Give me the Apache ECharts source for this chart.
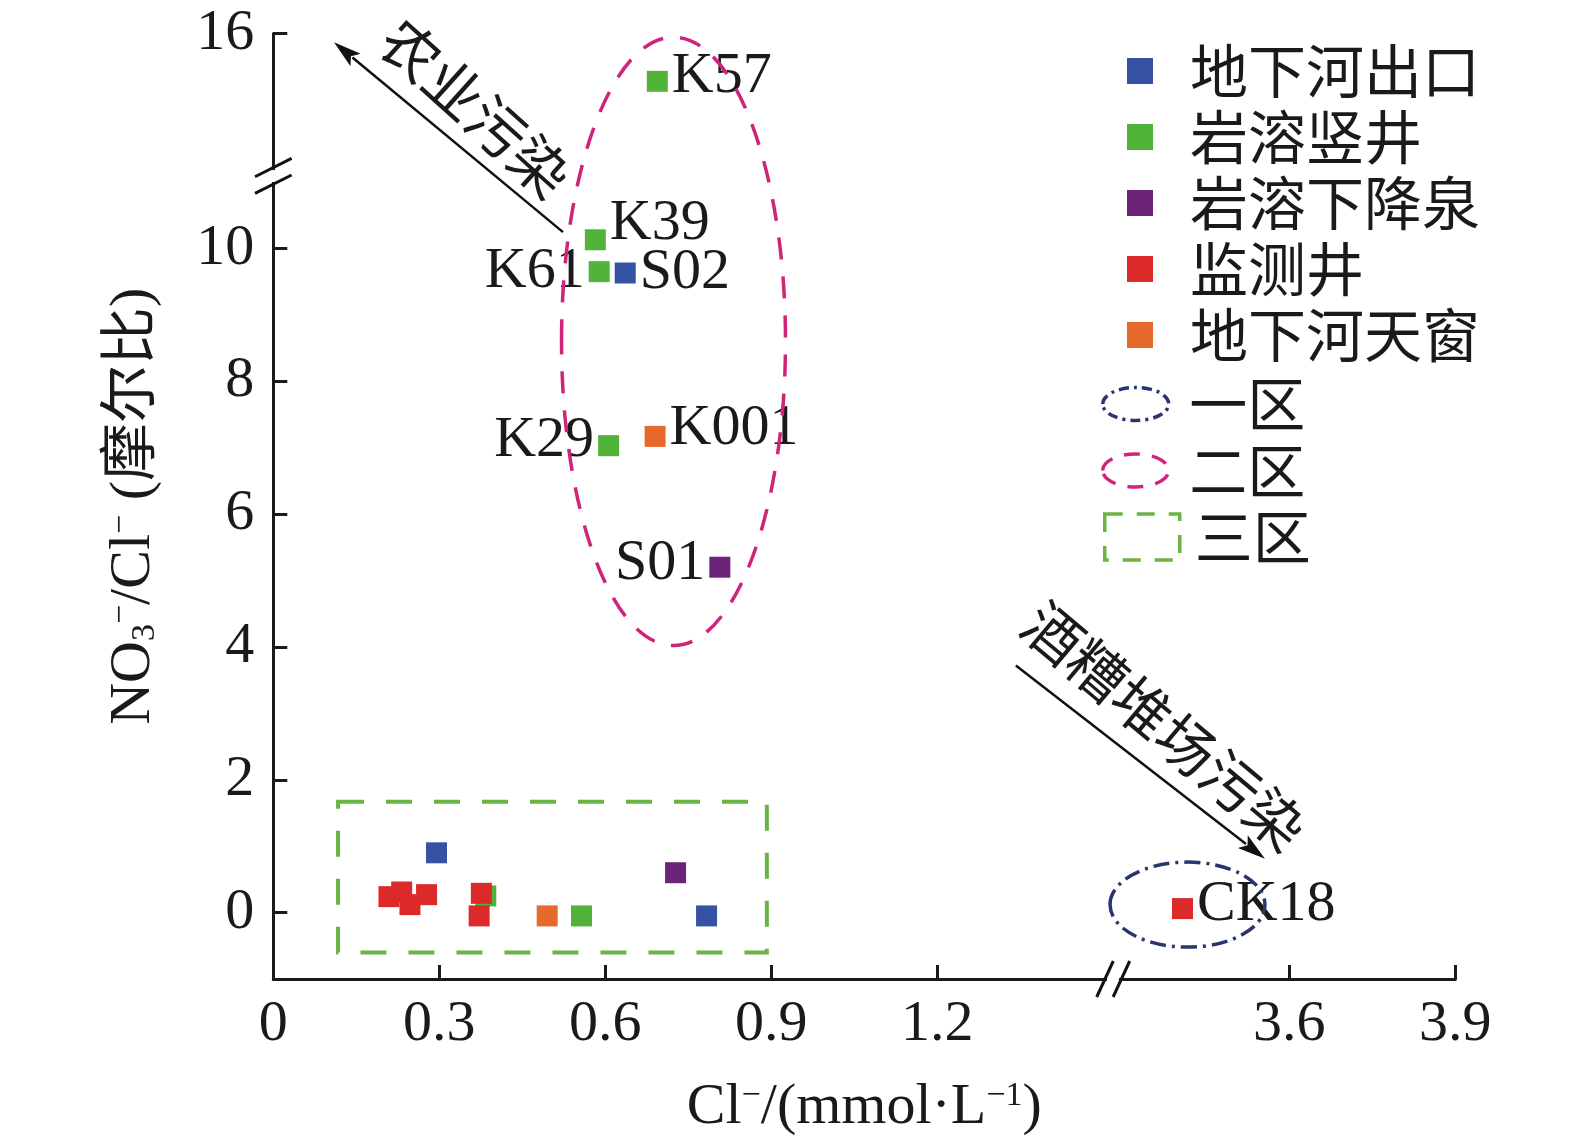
<!DOCTYPE html>
<html lang="zh-CN">
<head>
<meta charset="UTF-8">
<title>NO3-/Cl- 与 Cl- 关系图</title>
<script src="https://cdn.jsdelivr.net/npm/echarts@6.0.0/dist/echarts.min.js"></script>
<style>
    html, body { margin: 0; padding: 0; background: #fff; }
    #main { width: 1575px; height: 1146px; }
</style>
</head>
<body>
<div id="main"></div>
<script type="text/javascript">
    // 断轴：x 在 1.52 处截断（跳过 1.7638），y 在 11.09 处截断（跳过 2.764）
    var xBreak = 1.5176, xCut = 1.7638;
    var yBreak = 11.09, yCut = 2.764;
    function tx(x) { return x > xBreak ? x - xCut : x; }
    function ty(y) { return y > yBreak ? y - yCut : y; }

    var seriesNames = ['地下河出口', '岩溶竖井', '岩溶下降泉', '监测井', '地下河天窗'];
    var seriesColors = ['#3552a4', '#52b33a', '#6c2479', '#dc2a2a', '#e8692c'];

    // [Cl-(mmol/L), NO3-/Cl-, 编号]
    var outlet = [[0.636, 9.63, 'S02'], [0.295, 0.90, ''], [0.783, -0.05, '']];
    var shaft = [[0.694, 15.28, 'K57'], [0.582, 10.13, 'K39'], [0.589, 9.65, 'K61'],
                 [0.606, 7.03, 'K29'], [0.557, -0.05, ''], [0.384, 0.25, '']];
    var spring = [[0.807, 5.20, 'S01'], [0.727, 0.60, '']];
    var wells = [[0.209, 0.24, ''], [0.232, 0.31, ''], [0.247, 0.12, ''], [0.277, 0.27, ''],
                 [0.376, 0.29, ''], [0.372, -0.05, ''], [3.407, 0.06, 'CK18']];
    var skylight = [[0.690, 7.17, 'K001'], [0.495, -0.05, '']];

    var xTickValues = [0, 0.3, 0.6, 0.9, 1.2, 3.6, 3.9];
    var xTickLabels = ['0', '0.3', '0.6', '0.9', '1.2', '3.6', '3.9'];
    var yTickValues = [0, 2, 4, 6, 8, 10, 16];
    var yTickLabels = ['0', '2', '4', '6', '8', '10', '16'];

    var zoneNames = ['一区', '二区', '三区'];
    var zone1 = [3.416, 0.12, 0.14, 0.64];    // 椭圆：中心x, 中心y, 半轴x, 半轴y
    var zone2 = [0.7233, 8.60, 0.2024, 4.58];
    var zone3 = [0.117, -0.60, 0.892, 1.67];  // 矩形：x0, y0, x1, y1

    var arrowText = ['农业污染', '酒糟堆场污染'];
    var arrowFrom = [[0.5236, 10.245], [1.342, 3.72]];
    var arrowTo = [[0.1097, 15.87], [3.556, 0.81]];

    // 样式
    var ink = '#1a1a1a';
    var serif = "'Liberation Serif', 'Noto Sans CJK SC'";
    var cjk = "'Noto Sans CJK SC'";
    var labelLeft = ['K61', 'K29', 'S01'];
    var labelDy = { K39: -16, K57: -5, K29: -5, K001: -8, S01: -3, CK18: -4 };
    var arrowLabelStyle = [{ dx: 27, dy: -29, angle: 42 }, { dx: 24, dy: -36, angle: 40 }];
    var zoneColors = ['#29356f', '#d0237a', '#6ab446'];
    var zoneDash = [[16, 6, 3, 6], [22, 17], [26, 22]];
    var zoneWidth = [3.5, 3.5, 4];

    var xTickPos = xTickValues.map(tx);
    var yTickPos = yTickValues.map(ty);
    function pick(pos, labels, v) {
        for (var i = 0; i < pos.length; i++) {
            if (Math.abs(pos[i] - v) < 1e-6) return labels[i];
        }
        return '';
    }

    function toData(pts) {
        return pts.map(function (p) {
            var item = { value: [tx(p[0]), ty(p[1])] };
            if (p[2]) {
                item.label = {
                    show: true,
                    formatter: p[2],
                    position: labelLeft.indexOf(p[2]) >= 0 ? 'left' : 'right',
                    distance: 4,
                    offset: [0, labelDy[p[2]] || 0]
                };
            }
            return item;
        });
    }

    var groups = [outlet, shaft, spring, wells, skylight];
    var series = groups.map(function (pts, i) {
        return {
            type: 'scatter',
            name: seriesNames[i],
            symbol: 'rect',
            symbolSize: 21,
            itemStyle: { color: seriesColors[i], opacity: 1 },
            label: { show: false, fontSize: 58, fontFamily: serif, color: ink },
            emphasis: { disabled: true },
            z: 2,
            data: toData(pts)
        };
    });

    function zoneRender(k) {
        return function (params, api) {
            var style = { fill: 'none', stroke: zoneColors[k], lineWidth: zoneWidth[k], lineDash: zoneDash[k] };
            if (k === 2) {
                var a = api.coord([api.value(0), api.value(1)]);
                var b = api.coord([api.value(2), api.value(3)]);
                return {
                    type: 'rect',
                    shape: { x: Math.min(a[0], b[0]), y: Math.min(a[1], b[1]),
                             width: Math.abs(b[0] - a[0]), height: Math.abs(b[1] - a[1]) },
                    style: style
                };
            }
            var c = api.coord([api.value(0), api.value(1)]);
            var s = api.size([api.value(2), api.value(3)]);
            return { type: 'ellipse', shape: { cx: c[0], cy: c[1], rx: s[0], ry: s[1] }, style: style };
        };
    }
    series.push({ type: 'custom', name: zoneNames[0], z: 3, silent: true, renderItem: zoneRender(0),
                  data: [[tx(zone1[0]), ty(zone1[1]), zone1[2], zone1[3]]] });
    series.push({ type: 'custom', name: zoneNames[1], z: 3, silent: true, renderItem: zoneRender(1),
                  data: [[tx(zone2[0]), ty(zone2[1]), zone2[2], zone2[3]]] });
    series.push({ type: 'custom', name: zoneNames[2], z: 3, silent: true, renderItem: zoneRender(2),
                  data: [[tx(zone3[0]), ty(zone3[1]), tx(zone3[2]), ty(zone3[3])]] });

    // 箭头和说明文字
    series.push({
        type: 'custom', name: 'arrows', z: 4, silent: true,
        data: arrowFrom.map(function (f, i) {
            return [tx(f[0]), ty(f[1]), tx(arrowTo[i][0]), ty(arrowTo[i][1])];
        }),
        renderItem: function (params, api) {
            var i = params.dataIndex;
            var p1 = api.coord([api.value(0), api.value(1)]);
            var p2 = api.coord([api.value(2), api.value(3)]);
            var ang = Math.atan2(p2[1] - p1[1], p2[0] - p1[0]);
            var L = 28, W = 8;
            var bx = p2[0] - L * Math.cos(ang), by = p2[1] - L * Math.sin(ang);
            var head = [[p2[0], p2[1]],
                        [bx + W * Math.sin(ang), by - W * Math.cos(ang)],
                        [bx + 6 * Math.cos(ang), by + 6 * Math.sin(ang)],
                        [bx - W * Math.sin(ang), by + W * Math.cos(ang)]];
            var st = arrowLabelStyle[i];
            return {
                type: 'group',
                children: [
                    { type: 'line', shape: { x1: p1[0], y1: p1[1], x2: bx + 4 * Math.cos(ang), y2: by + 4 * Math.sin(ang) },
                      style: { stroke: '#111', lineWidth: 2.5 } },
                    { type: 'polygon', shape: { points: head }, style: { fill: '#111' } },
                    { type: 'text',
                      x: (p1[0] + p2[0]) / 2 + st.dx, y: (p1[1] + p2[1]) / 2 + st.dy,
                      rotation: -st.angle * Math.PI / 180,
                      style: { text: arrowText[i], fontSize: 58, fontFamily: cjk, fill: ink,
                               align: 'center', verticalAlign: 'middle' } }
                ]
            };
        }
    });

    // 断轴标记 //
    series.push({
        type: 'custom', name: 'breaks', z: 5, silent: true,
        data: [[0, 0]],
        renderItem: function (params, api) {
            var px = api.coord([xBreak, -1]);
            var py = api.coord([0, yBreak]);
            var s = { stroke: '#111', lineWidth: 3 };
            return {
                type: 'group',
                children: [
                    { type: 'rect', shape: { x: px[0] - 6, y: px[1] - 4, width: 12, height: 8 }, style: { fill: '#fff' } },
                    { type: 'line', shape: { x1: px[0] - 16.3, y1: px[1] + 18, x2: px[0] + 0.3, y2: px[1] - 18 }, style: s },
                    { type: 'line', shape: { x1: px[0] + 0.1, y1: px[1] + 18, x2: px[0] + 16.7, y2: px[1] - 18 }, style: s },
                    { type: 'rect', shape: { x: py[0] - 4, y: py[1] - 6, width: 8, height: 12 }, style: { fill: '#fff' } },
                    { type: 'line', shape: { x1: py[0] - 18.3, y1: py[1] + 0.7, x2: py[0] + 18.3, y2: py[1] - 17.7 }, style: s },
                    { type: 'line', shape: { x1: py[0] - 18.3, y1: py[1] + 17.4, x2: py[0] + 18.3, y2: py[1] - 1 }, style: s }
                ]
            };
        }
    });

    var axisFont = { fontSize: 58, fontFamily: serif, color: ink };
    var richName = {
        t: { fontSize: 58, fontFamily: serif, color: ink, lineHeight: 58 },
        sup: { fontSize: 34, fontFamily: serif, color: ink, verticalAlign: 'top' },
        sub: { fontSize: 34, fontFamily: serif, color: ink, verticalAlign: 'bottom' }
    };
    var ellipseIcon = 'path://M0,20 A40,20 0 1,1 80,20 A40,20 0 1,1 0,20 Z';
    var legendText = { fontSize: 58, lineHeight: 58, fontFamily: cjk, color: ink };

    var myChart = echarts.init(document.getElementById('main'));
    var option = {
        animation: false,
        backgroundColor: '#fff',
        grid: { left: 273.3, right: 119.7, top: 33.5, bottom: 167, containLabel: false, outerBoundsMode: 'none' },
        xAxis: {
            type: 'value',
            min: 0,
            max: tx(3.9),
            splitLine: { show: false },
            axisLine: { show: true, onZero: false, lineStyle: { color: ink, width: 3 } },
            axisTick: { show: true, inside: true, length: 14, lineStyle: { color: ink, width: 3 }, customValues: xTickPos },
            axisLabel: Object.assign({ customValues: xTickPos, margin: 17,
                formatter: function (v) { return pick(xTickPos, xTickLabels, v); } }, axisFont),
            name: '{t|Cl}{sup|−}{t|/(mmol·L}{sup|−1}{t|)}',
            nameLocation: 'middle',
            nameGap: 100,
            nameTextStyle: { rich: richName }
        },
        yAxis: {
            type: 'value',
            min: -1,
            max: ty(16),
            splitLine: { show: false },
            axisLine: { show: true, onZero: false, lineStyle: { color: ink, width: 3 } },
            axisTick: { show: true, inside: true, length: 14, lineStyle: { color: ink, width: 3 }, customValues: yTickPos },
            axisLabel: Object.assign({ customValues: yTickPos, margin: 19,
                formatter: function (v) { return pick(yTickPos, yTickLabels, v); } }, axisFont),
            name: '{t|NO}{sub|3}{sup|−}{t|/Cl}{sup|−}{t| (摩尔比)}',
            nameLocation: 'middle',
            nameGap: 111,
            nameTextStyle: { rich: richName }
        },
        legend: [
            {
                orient: 'vertical', left: 1127, top: 42, padding: 0,
                itemWidth: 26, itemHeight: 26, itemGap: 8,
                selectedMode: false,
                textStyle: Object.assign({ padding: [0, 0, 0, 32] }, legendText),
                data: seriesNames.map(function (n) { return { name: n, icon: 'rect' }; })
            },
            {
                orient: 'vertical', left: 1101, top: 375, padding: 0,
                itemWidth: 77, itemHeight: 33, itemGap: 8.5,
                selectedMode: false,
                textStyle: Object.assign({ padding: [0, 0, 0, 10] }, legendText),
                data: [0, 1].map(function (k) {
                    return { name: zoneNames[k], icon: ellipseIcon,
                             itemStyle: { color: 'rgba(0,0,0,0)', borderColor: zoneColors[k], borderWidth: 3.5,
                                          borderType: k === 0 ? [10, 5, 3, 5] : [16, 12] } };
                })
            },
            {
                orient: 'vertical', left: 1103, top: 508, padding: 0,
                itemWidth: 75, itemHeight: 46, itemGap: 8,
                selectedMode: false,
                textStyle: Object.assign({ padding: [0, 0, 0, 10] }, legendText),
                data: [{ name: zoneNames[2], icon: 'rect',
                         itemStyle: { color: 'rgba(0,0,0,0)', borderColor: zoneColors[2], borderWidth: 3.5,
                                      borderType: [18, 14] } }]
            }
        ],
        series: series
    };

    myChart.setOption(option);
</script>
</body>
</html>
